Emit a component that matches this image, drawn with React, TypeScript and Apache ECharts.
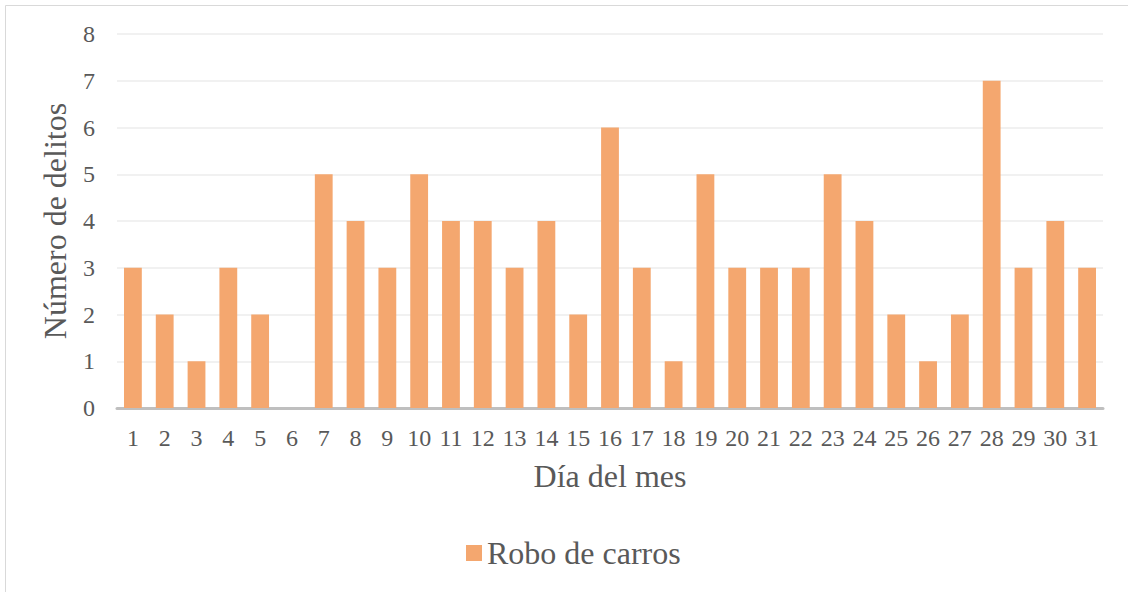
import React, { useEffect, useRef } from "react";
import * as echarts from "echarts";

const categories = ["1","2","3","4","5","6","7","8","9","10","11","12","13","14","15","16","17","18","19","20","21","22","23","24","25","26","27","28","29","30","31"];
const robos = [3,2,1,3,2,0,5,4,3,5,4,4,3,4,2,6,3,1,5,3,3,3,5,4,2,1,2,7,3,4,3];
const seriesName = "Robo de carros";
const xTitle = "Día del mes";
const yTitle = "Número de delitos";

const FONT = "'Liberation Serif', 'Times New Roman', serif";
const TXT = "#595959";

export default function App() {
  const ref = useRef<HTMLDivElement>(null);
  useEffect(() => {
    const chart = echarts.init(ref.current!, null, { renderer: "svg" });
    chart.setOption({
      animation: false,
      backgroundColor: "#ffffff",
      textStyle: { fontFamily: FONT, color: TXT },
      graphic: [
        {
          type: "rect",
          shape: { x: 5.5, y: 5.5, width: 1140, height: 600 },
          style: { fill: "none", stroke: "#D9D9D9", lineWidth: 1 },
          silent: true,
          z: -10,
        },
      ],
      grid: { left: 117, right: 25, top: 34, bottom: 184, containLabel: false },
      legend: {
        data: [seriesName],
        top: 532,
        left: 461,
        icon: "rect",
        itemWidth: 16,
        itemHeight: 16,
        itemGap: 7,
        itemStyle: { borderWidth: 0 },
        textStyle: { fontFamily: FONT, fontSize: 32, color: TXT },
      },
      xAxis: {
        type: "category",
        data: categories,
        name: xTitle,
        nameLocation: "middle",
        nameGap: 52,
        nameTextStyle: { fontFamily: FONT, fontSize: 32, color: TXT },
        axisLine: { show: true, lineStyle: { color: "#BFBFBF", width: 3 } },
        axisTick: { show: false },
        axisLabel: { fontFamily: FONT, fontSize: 24, color: TXT, margin: 18, interval: 0 },
      },
      yAxis: {
        type: "value",
        min: 0,
        max: 8,
        interval: 1,
        name: yTitle,
        nameLocation: "middle",
        nameGap: 46,
        nameTextStyle: { fontFamily: FONT, fontSize: 32, color: TXT },
        axisLine: { show: false },
        axisTick: { show: false },
        axisLabel: { fontFamily: FONT, fontSize: 24, color: TXT, margin: 22 },
        splitLine: { lineStyle: { color: "#EDEDED", width: 1.5 } },
      },
      series: [
        {
          name: seriesName,
          type: "bar",
          data: robos,
          barWidth: "56%",
          itemStyle: { color: "#F4A76F" },
        },
      ],
    });
    return () => chart.dispose();
  }, []);
  return (
    <div
      ref={ref}
      style={{ position: "absolute", left: 0, top: 0, width: 1128, height: 592 }}
    />
  );
}
